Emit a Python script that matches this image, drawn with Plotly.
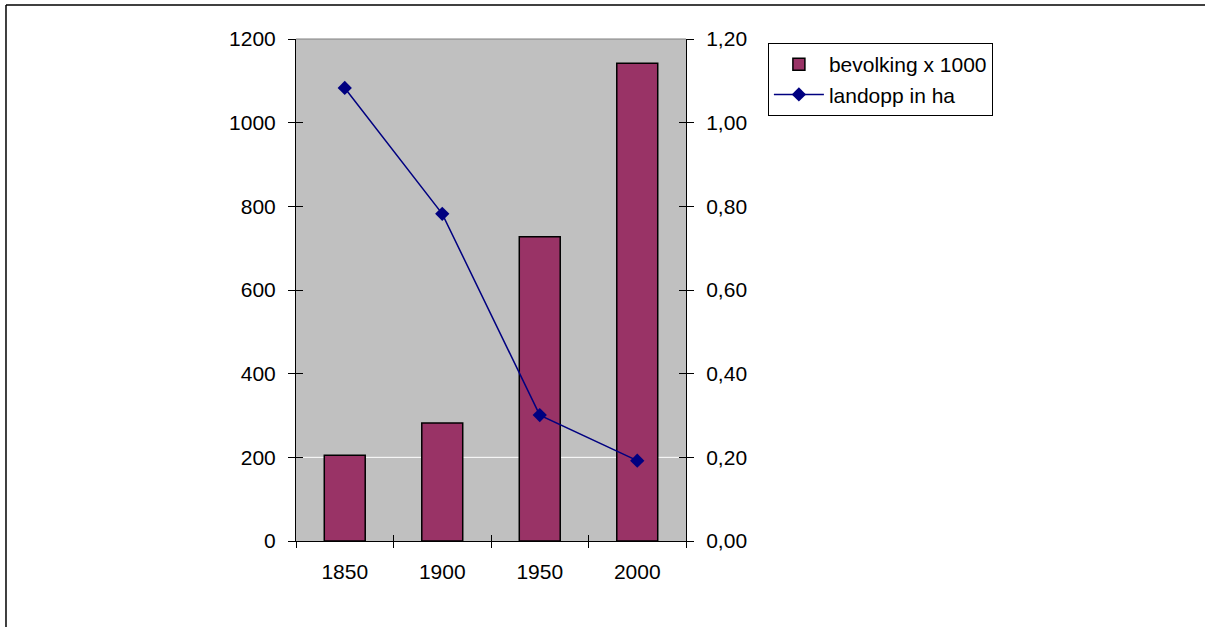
import plotly.graph_objects as go

years = ["1850", "1900", "1950", "2000"]
bevolking = [205, 282, 727, 1142]
landopp = [1.083, 0.782, 0.301, 0.192]
left_ticks = [0, 200, 400, 600, 800, 1000, 1200]
right_ticks = [0, 0.2, 0.4, 0.6, 0.8, 1.0, 1.2]
boundary_ticks = [-0.5, 0.5, 1.5, 2.5, 3.5]

FONT = "Liberation Sans, Arial, sans-serif"
FS = 21

fig = go.Figure()
fig.add_trace(go.Bar(
    x=years, y=bevolking, name="bevolking x 1000",
    marker=dict(color="#993366", line=dict(color="black", width=1.5)),
    yaxis="y", xaxis="x",
))
fig.add_trace(go.Scatter(
    x=years, y=landopp, name="landopp in ha", mode="lines+markers",
    line=dict(color="#000080", width=1.5),
    marker=dict(symbol="diamond", size=11, color="#000080"),
    yaxis="y2", xaxis="x",
))
# empty helper traces so the overlay axes (inner half of the crossing ticks) are drawn
fig.add_trace(go.Scatter(x=[], y=[], xaxis="x2", yaxis="y3", showlegend=False, hoverinfo="skip"))
fig.add_trace(go.Scatter(x=[], y=[], xaxis="x2", yaxis="y4", showlegend=False, hoverinfo="skip"))

axis_common = dict(showgrid=False, zeroline=False, showline=True,
                   linecolor="black", linewidth=1, tickcolor="black", tickwidth=1)

fig.update_layout(
    width=1205, height=627,
    margin=dict(l=296, r=519, t=39, b=86),
    paper_bgcolor="white", plot_bgcolor="#C0C0C0",
    font=dict(family=FONT, size=FS, color="black"),
    separators=",.",
    bargap=0.58,
    showlegend=True,
    legend=dict(x=1.21, y=0.992, xanchor="left", yanchor="top",
                bgcolor="white", bordercolor="black", borderwidth=1,
                font=dict(family=FONT, size=FS), tracegroupgap=0,
                itemwidth=50),
    xaxis=dict(type="category", range=[-0.5, 3.5], ticks="outside", ticklen=6,
               tickson="boundaries", ticklabelstandoff=12, **axis_common),
    xaxis2=dict(overlaying="x", anchor="y", side="bottom", type="linear", range=[-0.5, 3.5],
                tickvals=boundary_ticks, ticks="inside", ticklen=6,
                showticklabels=False, **axis_common),
    yaxis=dict(range=[0, 1200], tickvals=left_ticks, ticks="outside", ticklen=7,
               ticklabelstandoff=8, **axis_common),
    yaxis2=dict(overlaying="y", side="right", anchor="x", range=[0, 1.2],
                tickvals=right_ticks, tickformat=".2f", ticks="outside", ticklen=7,
                ticklabelstandoff=8, **axis_common),
    yaxis3=dict(overlaying="y", side="left", anchor="x2", range=[0, 1200],
                tickvals=left_ticks, ticks="inside", ticklen=7,
                showticklabels=False, **axis_common),
    yaxis4=dict(overlaying="y", side="right", anchor="x2", range=[0, 1.2],
                tickvals=right_ticks, ticks="inside", ticklen=7,
                showticklabels=False, **axis_common),
    shapes=[
        dict(type="line", xref="paper", yref="y", x0=0, x1=1, y0=200, y1=200,
             line=dict(color="white", width=1), layer="below"),
        dict(type="line", xref="paper", yref="paper", x0=0, x1=1, y0=1, y1=1,
             line=dict(color="#808080", width=1), layer="above"),
        dict(type="line", xref="paper", yref="paper", x0=-0.7436, x1=2.35,
             y0=1.0677, y1=1.0677, line=dict(color="black", width=1.5)),
        dict(type="line", xref="paper", yref="paper", x0=-0.7436, x1=-0.7436,
             y0=1.0677, y1=-0.25, line=dict(color="black", width=1.5)),
    ],
)

fig.write_html("out.html", config={"displayModeBar": False},
               post_script="document.body.style.margin='0';document.body.style.overflow='hidden';")
